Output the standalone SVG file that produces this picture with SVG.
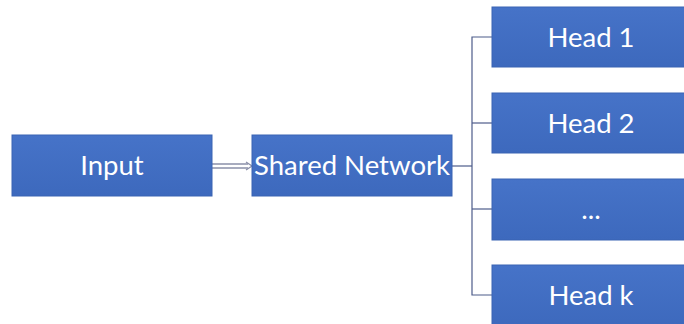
<svg xmlns="http://www.w3.org/2000/svg" width="684" height="324" viewBox="0 0 684 324">
  <defs>
    <linearGradient id="boxFill" x1="0" y1="0" x2="0" y2="1">
      <stop offset="0" stop-color="#4673c8"/>
      <stop offset="1" stop-color="#3d69bd"/>
    </linearGradient>
  </defs>
  <style>
    .box { fill: url(#boxFill); stroke: #3a64b3; stroke-width: 1; }
    .label { font-family: "Lato", "Open Sans", "Liberation Sans", sans-serif; font-size: 27.5px; fill: #ffffff; text-anchor: middle; dominant-baseline: central; }
    .link { fill: none; stroke: #4d5c8a; stroke-width: 1.2; }
    .dbl { fill: none; stroke: #8a8fa8; stroke-width: 1.3; }
  </style>
  <rect width="684" height="324" fill="#ffffff"/>

  <g id="connectors">
    <!-- double-line arrow from Input to Shared Network -->
    <line class="dbl" x1="212" y1="164" x2="248" y2="164"/>
    <line class="dbl" x1="212" y1="168" x2="248" y2="168"/>
    <path class="dbl" d="M246,162 L252,166 L246,170"/>
    <!-- tree fan-out to the heads -->
    <path class="link" d="M452,166 H472"/>
    <path class="link" d="M492,37 H472 V295 H492"/>
    <path class="link" d="M472,123 H492"/>
    <path class="link" d="M472,209 H492"/>
  </g>

  <g id="input">
    <rect class="box" x="12" y="135" width="200" height="61"/>
    <text class="label" x="112" y="164">Input</text>
  </g>
  <g id="shared-network">
    <rect class="box" x="252" y="135" width="200" height="61"/>
    <text class="label" x="352" y="164">Shared Network</text>
  </g>
  <g id="head-1">
    <rect class="box" x="492" y="7" width="200" height="60"/>
    <text class="label" x="591" y="36">Head 1</text>
  </g>
  <g id="head-2">
    <rect class="box" x="492" y="93" width="200" height="60"/>
    <text class="label" x="591" y="122">Head 2</text>
  </g>
  <g id="head-dots">
    <rect class="box" x="492" y="179" width="200" height="61"/>
    <text class="label" x="591" y="208">...</text>
  </g>
  <g id="head-k">
    <rect class="box" x="492" y="265" width="200" height="62"/>
    <text class="label" x="591" y="294">Head k</text>
  </g>
</svg>
